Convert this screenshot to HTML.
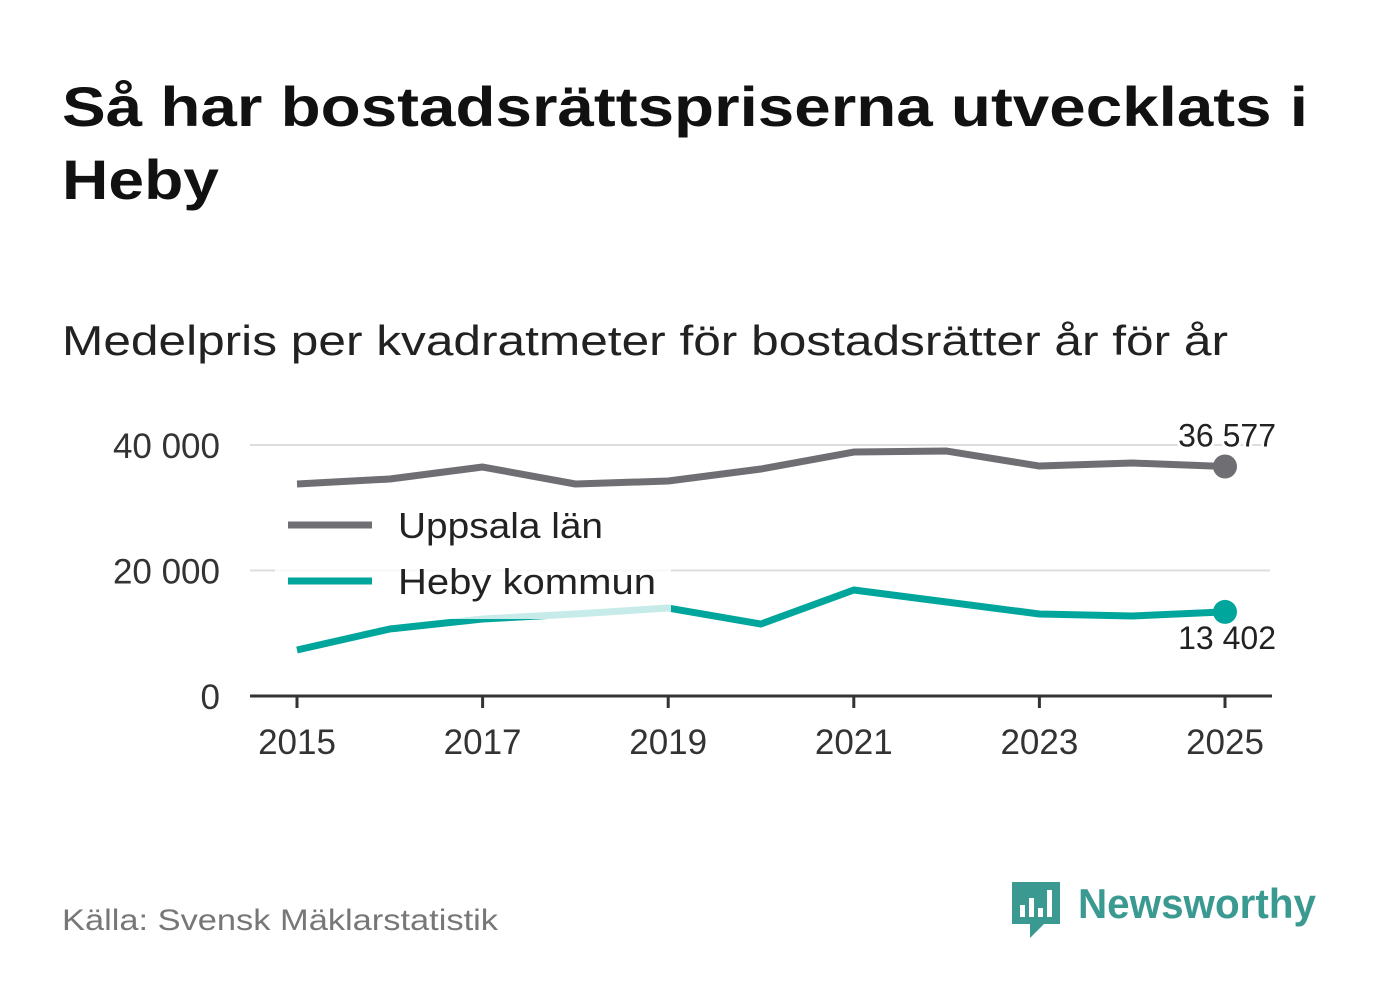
<!DOCTYPE html>
<html><head><meta charset="utf-8">
<style>
body{margin:0;background:#fff;width:1382px;height:999px;overflow:hidden;font-family:"Liberation Sans",sans-serif;}
</style></head>
<body>
<svg width="1382" height="999" xmlns="http://www.w3.org/2000/svg" font-family="Liberation Sans, sans-serif">
<text x="62" y="126" font-size="56" font-weight="bold" fill="#111" textLength="1246" lengthAdjust="spacingAndGlyphs">Så har bostadsrättspriserna utvecklats i</text>
<text x="62" y="199" font-size="56" font-weight="bold" fill="#111" textLength="157" lengthAdjust="spacingAndGlyphs">Heby</text>
<text x="62" y="355" font-size="42" fill="#222" textLength="1166" lengthAdjust="spacingAndGlyphs">Medelpris per kvadratmeter för bostadsrätter år för år</text>
<g id="plot"></g>
<text x="62" y="930" font-size="30" fill="#777" textLength="436" lengthAdjust="spacingAndGlyphs">Källa: Svensk Mäklarstatistik</text>
<g>
<path d="M1012 882 h48 v42 h-16 l-14 14 v-14 h-18 z" fill="#3a9a91"/>
<rect x="1020" y="905" width="5" height="12" fill="#fff"/><rect x="1029" y="898" width="5" height="19" fill="#fff"/><rect x="1038" y="908" width="5" height="9" fill="#fff"/><rect x="1047" y="890" width="5" height="27" fill="#fff"/>
<text x="1078" y="918" font-size="42" font-weight="bold" fill="#3a9a91" textLength="238" lengthAdjust="spacingAndGlyphs">Newsworthy</text>
</g>
</svg>
<script>
const years=[2015,2016,2017,2018,2019,2020,2021,2022,2023,2024,2025];
const uppsala=[33785,34580,36490,33785,34260,36170,38880,39040,36650,37130,36577];
const heby=[7330,10680,12270,13070,14020,11470,16890,14980,13070,12750,13402];
const yTicks=[0,20000,40000];
const yTickLabels=["0","20 000","40 000"];
const xTicks=[2015,2017,2019,2021,2023,2025];
const NS="http://www.w3.org/2000/svg";
const g=document.getElementById('plot');
const x=v=>297+(v-2015)*(1225-297)/10;
const y=v=>696-v*(696-445)/40000;
function mk(t,a){const e=document.createElementNS(NS,t);for(const k in a)e.setAttribute(k,a[k]);g.appendChild(e);return e;}
yTicks.forEach((t,i)=>{
 if(t>0){const l=mk('line',{x1:250,x2:1270,y1:y(t),y2:y(t),stroke:'#ddd','stroke-width':2});
 
 }
 const tx=mk('text',{x:220,y:y(t)+13,'font-size':35,'text-anchor':'end',fill:'#333'});tx.textContent=yTickLabels[i];
 
 
});
const ax=mk('line',{x1:250,x2:1272,y1:y(0),y2:y(0),stroke:'#333','stroke-width':3});


xTicks.forEach(t=>{
 mk('line',{x1:x(t),x2:x(t),y1:y(0),y2:y(0)+12,stroke:'#333','stroke-width':3});
 const tx=mk('text',{x:x(t),y:y(0)+58,'font-size':35,'text-anchor':'middle',fill:'#333'});tx.textContent=t;
 
 
});
function series(vals,color,name){
 const p=mk('polyline',{points:vals.map((v,i)=>x(years[i])+','+y(v)).join(' '),fill:'none',stroke:color,'stroke-width':7,'stroke-linejoin':'round'});
 
 
 const n=vals.length-1;
 const c=mk('circle',{cx:x(years[n]),cy:y(vals[n]),r:12,fill:color});
 
 
}
series(uppsala,'#6f6e73','uppsala');
series(heby,'#00a69c','heby');
const bg=mk('rect',{x:275,y:500,width:396,height:119,fill:'#fff','fill-opacity':0.78});


[['Uppsala län','#6f6e73',525,205],['Heby kommun','#00a69c',581,258]].forEach(([t,c,yy,w])=>{
 mk('line',{x1:288,x2:372,y1:yy,y2:yy,stroke:c,'stroke-width':7});
 const tx=mk('text',{x:398,y:yy+13,'font-size':36,fill:'#222',textLength:w,lengthAdjust:'spacingAndGlyphs'});tx.textContent=t;
 
 
});
const fmt=v=>String(v).replace(/\B(?=(\d{3})+$)/g,' ');
const l1=mk('text',{x:1276,y:y(uppsala[10])-20,'font-size':32,'text-anchor':'end',fill:'#222',stroke:'#fff','stroke-width':6,'paint-order':'stroke'});l1.textContent=fmt(uppsala[10]);


const l2=mk('text',{x:1276,y:y(heby[10])+37,'font-size':32,'text-anchor':'end',fill:'#222',stroke:'#fff','stroke-width':6,'paint-order':'stroke'});l2.textContent=fmt(heby[10]);


</script>
</body></html>
